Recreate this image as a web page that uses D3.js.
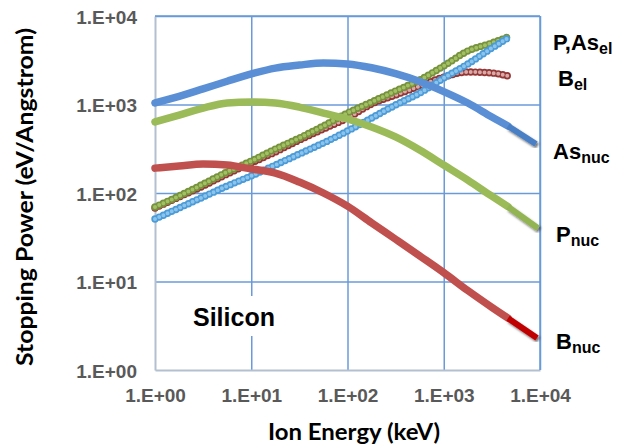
<!DOCTYPE html>
<html><head><meta charset="utf-8">
<script src="https://cdn.jsdelivr.net/npm/d3@7"></script>
<style>body{margin:0;background:#fff;} svg{display:block}</style>
</head><body>
<svg id="c" width="623" height="445"></svg>
<script>
// ---- data ----
const energy = [1, 1.78, 3.16, 5.62, 10, 17.8, 31.6, 56.2, 100, 178, 316, 562, 1000, 1778, 3162, 4650]; // keV
const asNuc = [1040, 1235, 1500, 1830, 2215, 2580, 2790, 2950, 2870, 2600, 2230, 1820, 1400, 1040, 722, 572];
const pNuc  = [635, 760, 910, 1040, 1070, 1040, 935, 800, 686, 557, 430, 306, 207, 140, 92, 70];
const bNuc  = [191, 202, 213, 207, 187, 168, 133, 100, 71, 46, 30, 19.5, 12.6, 7.9, 5.1, 3.85];
const pEl   = [69.5, 92.5, 126, 173, 230, 314, 418, 572, 802, 1067, 1422, 1892, 2723, 4025, 4955, 5790];
const asEl  = [50.8, 67.7, 90.2, 120, 156, 207, 276, 367, 502, 704, 987, 1349, 1990, 2870, 4350, 5640];
const bEl   = [67.7, 90.2, 120, 164, 218, 291, 397, 529, 704, 1013, 1280, 1618, 2040, 2330, 2270, 2100];
// trend-line extensions of the nuclear curves: [energy, value] at their far end
const asNucEnd = [9080, 358];
const pNucEnd  = [9530, 40];
const bNucEnd  = [9310, 2.3];
const xTicks = [1, 10, 100, 1000, 10000];
const yTicks = [1, 10, 100, 1000, 10000];
const tickLabels = ["1.E+00", "1.E+01", "1.E+02", "1.E+03", "1.E+04"];

const svg = d3.select("#c");
const L = 155, R = 540, T = 16, B = 370;
const x = d3.scaleLog().domain([1, 1e4]).range([L, R]);
const y = d3.scaleLog().domain([1, 1e4]).range([B, T]);

const defs = svg.append("defs");
const f = defs.append("filter").attr("id", "sh").attr("x", "-20%").attr("y", "-20%").attr("width", "140%").attr("height", "140%");
f.append("feDropShadow").attr("dx", 1.5).attr("dy", 2).attr("stdDeviation", 1.2).attr("flood-color", "#000").attr("flood-opacity", 0.55);

const gridColor = "#6a9ad8";
// vertical grid
svg.append("g").attr("transform", `translate(0,${B})`)
  .call(d3.axisBottom(x).tickValues(xTicks.slice(1)).tickSize(-(B - T)).tickFormat(""))
  .call(g => g.select(".domain").remove())
  .call(g => g.selectAll("line").attr("stroke", gridColor).attr("stroke-width", 1.5));
// horizontal grid
svg.append("g").attr("transform", `translate(${L},0)`)
  .call(d3.axisLeft(y).tickValues(yTicks.slice(1)).tickSize(-(R - L)).tickFormat(""))
  .call(g => g.select(".domain").remove())
  .call(g => g.selectAll("line").attr("stroke", gridColor).attr("stroke-width", 1.5));

// axes with labels
const xAxis = svg.append("g").attr("transform", `translate(0,${B})`)
  .call(d3.axisBottom(x).tickValues(xTicks).tickSize(0).tickFormat((d, i) => tickLabels[i]));
xAxis.select(".domain").attr("stroke", "#b4c0d0").attr("stroke-width", 2);
xAxis.selectAll("text").attr("y", 19).attr("dy", "0.71em")
  .attr("font-family", "Liberation Sans, Arial, sans-serif").attr("font-weight", "bold")
  .attr("font-size", 19).attr("fill", "#595959");

const yAxis = svg.append("g").attr("transform", `translate(${L},0)`)
  .call(d3.axisLeft(y).tickValues(yTicks).tickSize(0).tickFormat((d, i) => tickLabels[i]));
yAxis.select(".domain").attr("stroke", "#b4c0d0").attr("stroke-width", 2);
yAxis.selectAll("text").attr("x", -18).attr("dy", "0.38em")
  .attr("font-family", "Liberation Sans, Arial, sans-serif").attr("font-weight", "bold")
  .attr("font-size", 19).attr("fill", "#595959");

// top & right border
svg.append("line").attr("x1", L).attr("x2", R).attr("y1", T).attr("y2", T).attr("stroke", gridColor).attr("stroke-width", 1.5);
svg.append("line").attr("x1", R).attr("x2", R).attr("y1", T).attr("y2", B).attr("stroke", gridColor).attr("stroke-width", 1.5);

// Silicon label with white background
svg.append("rect").attr("x", 186).attr("y", 296).attr("width", 98).attr("height", 40).attr("fill", "#fff");
svg.append("text").attr("x", 193).attr("y", 326).text("Silicon")
  .attr("font-family", "Liberation Sans, Arial, sans-serif").attr("font-weight", "bold").attr("font-size", 25).attr("fill", "#000");

const line = d3.line().x(d => x(d[0])).y(d => y(d[1])).curve(d3.curveMonotoneX);
const pts = v => energy.map((e, i) => [e, v[i]]);

// electronic stopping: open circle markers
function elSeries(vals, stroke, fill) {
  const d = line(pts(vals));
  svg.append("path").attr("d", d).attr("fill", "none").attr("stroke", stroke)
    .attr("stroke-width", 7.4).attr("stroke-linecap", "round").attr("stroke-dasharray", "0 4.6");
  svg.append("path").attr("d", d).attr("fill", "none").attr("stroke", fill)
    .attr("stroke-width", 4).attr("stroke-linecap", "round").attr("stroke-dasharray", "0 4.6");
}
elSeries(bEl, "#943634", "#d8aaa8");
elSeries(pEl, "#76923c", "#a4c064");
elSeries(asEl, "#4a9bd8", "#8cc4ec");

// nuclear stopping: thick filled-marker lines + trend extension with shadow
function nucSeries(vals, end, color, extColor) {
  const p = pts(vals);
  svg.append("path").attr("d", line(p)).attr("fill", "none").attr("stroke", color)
    .attr("stroke-width", 7.5).attr("stroke-linecap", "round").attr("stroke-linejoin", "round");
  svg.append("path").attr("d", d3.line().x(d => x(d[0])).y(d => y(d[1]))([p[p.length - 1], end]))
    .attr("fill", "none").attr("stroke", extColor).attr("stroke-width", 6).attr("filter", "url(#sh)");
}
nucSeries(asNuc, asNucEnd, "#5a8fd6", "#4a7fc4");
nucSeries(pNuc, pNucEnd, "#9bbb59", "#92b452");
nucSeries(bNuc, bNucEnd, "#c0504d", "#c00000");

// right-side series labels
const labels = [
  { main: "P,As", sub: "el", x: 553, y: 50 },
  { main: "B", sub: "el", x: 558, y: 86 },
  { main: "As", sub: "nuc", x: 553, y: 159 },
  { main: "P", sub: "nuc", x: 556, y: 242 },
  { main: "B", sub: "nuc", x: 556, y: 349 }
];
labels.forEach(l => {
  const t = svg.append("text").attr("x", l.x).attr("y", l.y)
    .attr("font-family", "Liberation Sans, Arial, sans-serif").attr("font-weight", "bold").attr("fill", "#000");
  t.append("tspan").attr("font-size", 22).text(l.main);
  t.append("tspan").attr("font-size", 16).attr("dy", 4).text(l.sub);
});

// axis titles
const tf = "Lato, 'Open Sans', sans-serif";
svg.append("text").attr("x", 354).attr("y", 440).attr("text-anchor", "middle")
  .attr("font-family", tf).attr("font-weight", "bold").attr("font-size", 23).attr("fill", "#000")
  .attr("textLength", 172).attr("lengthAdjust", "spacingAndGlyphs")
  .text("Ion Energy (keV)");
svg.append("text").attr("transform", "translate(33,197) rotate(-90)").attr("text-anchor", "middle")
  .attr("font-family", tf).attr("font-weight", "bold").attr("font-size", 23).attr("fill", "#000")
  .attr("textLength", 338).attr("lengthAdjust", "spacingAndGlyphs")
  .text("Stopping Power (eV/Angstrom)");
</script>
</body></html>
